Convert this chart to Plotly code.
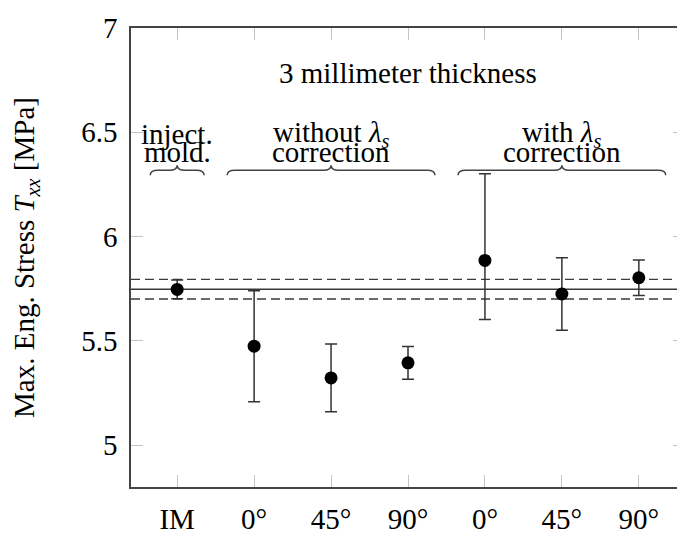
import plotly.graph_objects as go

# ---- data ----
tick_labels = ["IM", "0°", "45°", "90°", "0°", "45°", "90°"]
positions = [0, 1, 2, 3, 4, 5, 6]
stress_mean = [5.747, 5.475, 5.323, 5.395, 5.886, 5.725, 5.803]
stress_err_plus = [0.045, 0.266, 0.162, 0.079, 0.415, 0.174, 0.085]
stress_err_minus = [0.045, 0.266, 0.162, 0.079, 0.283, 0.174, 0.085]

im_mean = 5.748
im_band = 0.047

group_labels_top = ["inject.", "without <i>λ</i><sub><i>s</i></sub>", "with <i>λ</i><sub><i>s</i></sub>"]
group_labels_bottom = ["mold.", "correction", "correction"]
group_centers = [0, 2, 5]
group_starts = [-0.35, 0.65, 3.65]
group_ends = [0.35, 3.35, 6.35]

x_range = [-0.6, 6.6]
y_range = [4.8, 7.0]

FONT = "Liberation Serif, DejaVu Serif, serif"
FS = 29
AX = "#444444"
TICK = "#c4c4c4"

fig = go.Figure()

# reference lines (mean of injection molded +/- band)
fig.add_trace(go.Scatter(x=x_range, y=[im_mean, im_mean], mode="lines",
                         line=dict(color="#3a3a3a", width=1.6), hoverinfo="skip", showlegend=False))
for v in (im_mean + im_band, im_mean - im_band):
    fig.add_trace(go.Scatter(x=x_range, y=[v, v], mode="lines",
                             line=dict(color="#3a3a3a", width=1.4, dash="9px,5px"),
                             hoverinfo="skip", showlegend=False))

# data points with error bars
fig.add_trace(go.Scatter(
    x=positions, y=stress_mean, mode="markers",
    marker=dict(color="black", size=13),
    error_y=dict(type="data", symmetric=False, array=stress_err_plus,
                 arrayminus=stress_err_minus, visible=True,
                 color="#333333", thickness=1.5, width=6),
    showlegend=False))

# braces
def brace(x0, x1, ybar, ytip, yend, dx=0.1):
    xm = (x0 + x1) / 2
    return (f"M {x0},{yend} Q {x0},{ybar} {x0+dx},{ybar} L {xm-dx},{ybar} "
            f"Q {xm},{ybar} {xm},{ytip} Q {xm},{ybar} {xm+dx},{ybar} "
            f"L {x1-dx},{ybar} Q {x1},{ybar} {x1},{yend}")

for s, e in zip(group_starts, group_ends):
    fig.add_shape(type="path", xref="x", yref="y",
                  path=brace(s, e, 6.318, 6.342, 6.294),
                  line=dict(color=AX, width=1.5))

for c, t1, t2 in zip(group_centers, group_labels_top, group_labels_bottom):
    fig.add_annotation(x=c, y=6.492, text=t1, showarrow=False, xref="x", yref="y",
                       xanchor="center", yanchor="middle",
                       font=dict(family=FONT, size=FS, color="black"))
    fig.add_annotation(x=c, y=6.405, text=t2, showarrow=False, xref="x", yref="y",
                       xanchor="center", yanchor="middle",
                       font=dict(family=FONT, size=FS, color="black"))

fig.add_annotation(x=3, y=6.784, text="3 millimeter thickness", showarrow=False,
                   xref="x", yref="y", xanchor="center", yanchor="middle",
                   font=dict(family=FONT, size=FS, color="black"))

fig.update_layout(
    width=685, height=541,
    margin=dict(l=123, r=8, t=20, b=62, autoexpand=False),
    paper_bgcolor="white", plot_bgcolor="white",
    font=dict(family=FONT, size=FS, color="black"),
    xaxis=dict(range=x_range, tickvals=positions, ticktext=tick_labels,
               showline=True, linecolor=AX, linewidth=1.5, mirror="ticks",
               ticks="inside", ticklen=12, tickcolor=TICK, tickwidth=1,
               showgrid=False, zeroline=False, ticklabelstandoff=5, automargin=False),
    yaxis=dict(range=y_range, tickvals=[5, 5.5, 6, 6.5, 7],
               ticktext=["5", "5.5", "6", "6.5", "7"],
               showline=True, linecolor=AX, linewidth=1.5, mirror="ticks",
               ticks="inside", ticklen=12, tickcolor=TICK, tickwidth=1,
               showgrid=False, zeroline=False, ticklabelstandoff=6, automargin=False,
               title=dict(text="Max. Eng. Stress <i>T</i><sub><i>xx</i></sub> [MPa]",
                          font=dict(family=FONT, size=FS), standoff=40)),
)

fig.write_html("out.html")
